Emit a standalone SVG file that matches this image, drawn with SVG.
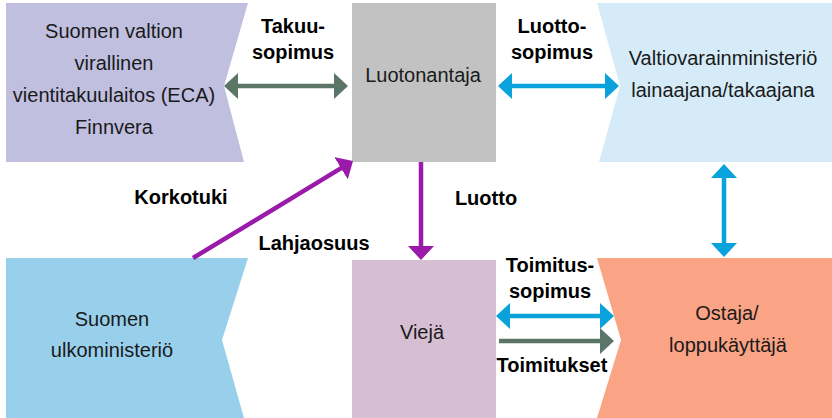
<svg xmlns="http://www.w3.org/2000/svg" width="832" height="418" viewBox="0 0 832 418">
<defs>
<style>
.t{font-family:"Liberation Sans",Arial,sans-serif;font-size:20px;fill:#1a1a1a;text-anchor:middle}
.b{font-family:"Liberation Sans",Arial,sans-serif;font-size:20px;font-weight:bold;fill:#000;text-anchor:middle}
.ln{fill:none;stroke-width:4.5}
</style>
<marker id="hg" markerUnits="userSpaceOnUse" markerWidth="14" markerHeight="26" viewBox="0 0 14 26" refX="3" refY="13" orient="auto-start-reverse"><path d="M0,0L14,13L0,26Z" fill="#5b7568"/></marker>
<marker id="hb" markerUnits="userSpaceOnUse" markerWidth="14" markerHeight="26" viewBox="0 0 14 26" refX="3" refY="13" orient="auto-start-reverse"><path d="M0,0L14,13L0,26Z" fill="#0aa2da"/></marker>
<marker id="hp" markerUnits="userSpaceOnUse" markerWidth="14" markerHeight="26" viewBox="0 0 14 26" refX="3" refY="13" orient="auto-start-reverse"><path d="M0,0L14,13L0,26Z" fill="#9a1aa9"/></marker>
</defs>
<rect width="832" height="418" fill="#fff"/>
<g id="finnvera">
<polygon points="6,3 248,3 224,86 244,162 6,162" fill="#c0bfe0"/>
<text class="t" x="114" y="38">Suomen valtion</text>
<text class="t" x="114" y="70">virallinen</text>
<text class="t" x="114" y="102">vientitakuulaitos (ECA)</text>
<text class="t" x="114" y="134">Finnvera</text>
</g>
<g id="luotonantaja">
<rect x="352" y="3" width="144" height="159" fill="#c1c2c1"/>
<text class="t" x="423" y="82">Luotonantaja</text>
</g>
<g id="valtiovarain">
<polygon points="597,3 832,3 832,162 599,162 620,86" fill="#d5ecf8"/>
<text class="t" x="723" y="65">Valtiovarainministeriö</text>
<text class="t" x="723" y="97">lainaajana/takaajana</text>
</g>
<g id="ulkoministerio">
<polygon points="6,258 248,258 222,340 244,418 6,418" fill="#98d0ec"/>
<text class="t" x="112" y="326">Suomen</text>
<text class="t" x="112" y="357">ulkoministeriö</text>
</g>
<g id="vieja">
<rect x="352" y="260" width="144" height="158" fill="#d6bfd2"/>
<text class="t" x="422" y="339">Viejä</text>
</g>
<g id="ostaja">
<polygon points="597,258 832,258 832,418 597,418 621,340" fill="#fba385"/>
<text class="t" x="727" y="320">Ostaja/</text>
<text class="t" x="728" y="352">loppukäyttäjä</text>
</g>
<g id="connectors">
<line class="ln" x1="235" y1="86" x2="337" y2="86" stroke="#5b7568" marker-start="url(#hg)" marker-end="url(#hg)"/>
<line class="ln" x1="509" y1="86" x2="608" y2="86" stroke="#0aa2da" marker-start="url(#hb)" marker-end="url(#hb)"/>
<line class="ln" x1="724" y1="175" x2="724" y2="246" stroke="#0aa2da" marker-start="url(#hb)" marker-end="url(#hb)"/>
<line class="ln" x1="421" y1="162" x2="421" y2="249" stroke="#9a1aa9" marker-end="url(#hp)"/>
<line class="ln" x1="193" y1="258" x2="343.6" y2="166.7" stroke="#9a1aa9" marker-end="url(#hp)"/>
<line class="ln" x1="507" y1="316" x2="603" y2="316" stroke="#0aa2da" marker-start="url(#hb)" marker-end="url(#hb)"/>
<line class="ln" x1="499" y1="341" x2="603" y2="341" stroke="#5b7568" marker-end="url(#hg)"/>
</g>
<g id="labels">
<text class="b" x="293" y="33">Takuu-</text>
<text class="b" x="293" y="59">sopimus</text>
<text class="b" x="552" y="33">Luotto-</text>
<text class="b" x="552" y="59">sopimus</text>
<text class="b" x="181" y="204">Korkotuki</text>
<text class="b" x="314" y="250">Lahjaosuus</text>
<text class="b" x="486" y="205">Luotto</text>
<text class="b" x="550" y="272">Toimitus-</text>
<text class="b" x="550" y="298">sopimus</text>
<text class="b" x="552" y="372">Toimitukset</text>
</g>
</svg>
